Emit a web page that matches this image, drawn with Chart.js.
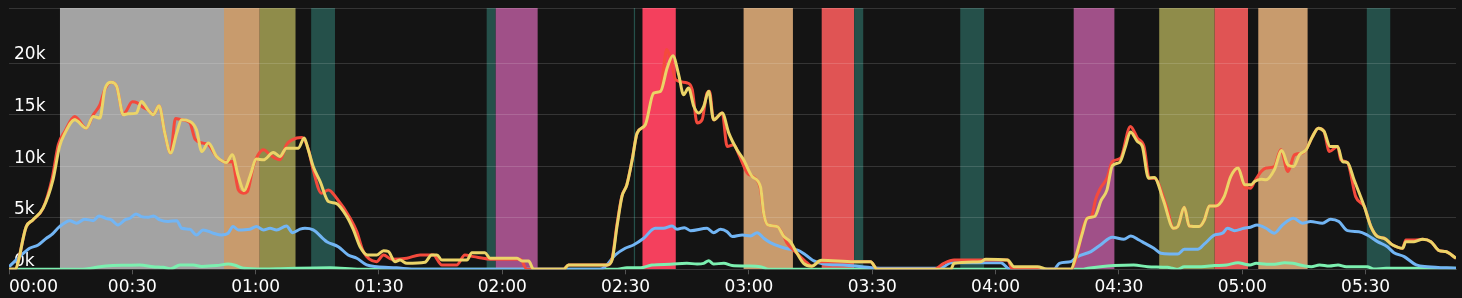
<!DOCTYPE html>
<html><head><meta charset="utf-8">
<script src="https://cdn.jsdelivr.net/npm/chart.js@4/dist/chart.umd.min.js"></script>
<style>
html,body{margin:0;padding:0;background:#141414;overflow:hidden;}
#wrap{width:1462px;height:298px;position:relative;}
</style></head><body>
<div id="wrap"><canvas id="c"></canvas></div>
<script>
// time axis in minutes since 00:00
const xMin = 0, xMax = 352, xStep = 30;
const yMax = 25340;
const yTicks = [0, 5000, 10000, 15000, 20000];

// background bands (minutes)
const bandStart = [12.4, 52.3, 61.0, 73.5, 116.2, 118.4, 152.0, 154.1, 178.7, 197.7, 205.6, 231.4, 259.0, 279.8, 293.3, 303.9, 330.3];
const bandEnd   = [52.3, 61.0, 69.7, 79.3, 118.4, 128.6, 152.3, 162.2, 190.7, 205.6, 207.8, 237.2, 268.9, 293.3, 301.4, 315.9, 336.0];
const bandColor = ['#a3a3a3', '#c89b6d', '#8f8c4a', '#25504a', '#25504a', '#a05088', '#25504a', '#f4405d', '#c89b6d', '#e05454', '#25504a', '#25504a', '#a05088', '#8f8c4a', '#e05454', '#c89b6d', '#25504a'];

// yellow series
const yellowT = [0,1.4,4.2,5.8,8.3,10.7,12.3,13.6,16.0,18.8,20.5,22.1,23.3,24.9,26.2,27.8,29.0,31.0,32.2,33.8,35.1,36.5,37.9,39.3,40.8,42.0,44.0,45.6,46.9,48.5,50.5,52.1,52.9,54.3,55.8,57.2,58.6,60.2,61.9,64.3,65.9,67.5,70.4,71.8,72.8,74.0,75.7,77.7,79.5,82.2,83.8,85.4,87.2,89.5,91.1,92.3,93.9,95.1,96.8,101.2,102.8,104.1,105.3,111.4,112.6,115.8,117.0,123.6,124.8,126.4,127.6,134.9,136.1,145.5,146.7,147.9,149.1,150.3,151.6,152.8,154.8,156.8,158.5,160.1,161.5,162.9,164.1,165.3,166.6,167.8,169.0,170.2,171.4,173.5,175.1,177.1,178.7,180.8,182.8,183.6,184.6,186.9,188.5,190.1,191.7,193.3,195.2,197.6,205.6,209.6,211.2,229.1,229.9,236.4,237.6,242.9,244.5,250.2,252.6,258.3,259.5,261.1,262.3,264.1,265.7,267.1,268.4,270.2,271.6,272.8,274.5,275.7,277.2,278.6,280.8,283.3,284.3,285.9,287.1,289.5,290.8,292.0,293.6,295.6,297.2,299.0,300.6,302.1,303.0,304.6,305.8,307.8,309.6,311.1,312.5,313.9,315.5,317.1,318.5,319.9,321.4,323.2,324.4,325.6,327.2,329.7,331.3,332.9,334.5,336.6,339.0,339.8,341.8,343.9,345.9,347.9,349.5,352.0];
const yellowV = [0,0,4140,4790,5930,8680,11910,13200,14500,13690,14820,14670,17420,18130,17740,14990,15080,15150,16280,15470,14990,15860,13210,11270,13210,14500,14340,13530,11420,12240,10940,10450,10350,11100,8990,7630,8990,10690,10620,11330,10940,11750,11750,12730,11590,9970,8510,6570,6410,5110,3820,2190,1390,1390,1810,1720,740,900,580,680,1390,1390,900,900,1610,1610,1070,1070,800,800,0,0,420,420,900,4140,7050,8190,10620,13210,14020,17090,17260,19530,20720,18870,16930,17580,15790,15150,15790,17260,14500,15150,13210,11590,10620,8990,8020,5440,4300,4140,3170,2680,1550,580,300,870,740,740,0,0,580,740,970,900,250,250,0,0,1230,3500,4950,5120,6700,7700,10050,10370,11910,13320,12390,11920,8840,8910,6730,3980,4140,6020,4200,4140,4790,6150,6150,7050,8990,9820,8190,8190,8510,8740,8680,9640,11520,10130,9970,11100,11590,12880,13690,13370,11910,11910,10450,10350,8680,6080,4140,3170,3010,2360,2040,2680,2680,2910,2680,1810,1720,1070];

// red series
const redT = [0,1.4,4.2,5.8,8.3,10.5,12.0,13.6,16.0,18.8,20.5,22.1,23.3,24.9,26.2,27.8,28.5,30.0,31.2,32.5,33.8,35.1,36.5,37.9,39.3,40.5,42.0,44.0,45.3,47.2,48.5,50.5,52.1,53.0,54.3,55.8,57.0,58.0,59.4,60.6,61.9,63.5,65.9,67.5,70.0,71.3,72.8,74.0,76.0,77.7,79.7,83.0,84.6,86.2,89.4,91.1,93.1,96.8,100.0,103.2,105.3,108.9,110.9,113.0,117.9,124.4,126.0,134.9,136.1,145.5,146.7,147.9,149.1,150.3,151.6,152.8,154.8,156.8,158.5,159.1,160.0,161.0,162.2,165.0,166.2,167.4,168.6,169.8,170.4,171.4,173.5,174.7,176.3,177.5,179.6,181.2,182.8,183.6,184.6,186.9,188.5,189.3,191.7,194.1,195.4,197.0,205.6,209.6,211.2,225.0,227.4,229.9,242.9,244.1,258.3,259.9,261.1,262.3,263.4,264.3,265.5,267.1,268.4,270.4,272.8,274.5,276.1,277.4,278.6,281.6,283.3,284.3,285.9,287.1,289.5,290.8,292.0,293.6,295.6,297.2,299.0,300.6,302.0,303.0,304.6,305.8,307.8,309.4,311.1,312.7,314.7,315.5,317.1,318.5,319.9,321.2,323.2,324.0,325.6,327.6,329.7,331.3,332.9,334.5,336.6,339.0,339.8,341.8,343.9,345.9,347.9,349.5,352.0];
const redV = [0,0,4140,4790,5930,8830,12080,13400,14820,13690,14990,15940,17420,18130,17740,14990,15330,16240,16140,15730,15470,14990,15860,13210,11270,14620,14500,14210,12590,12240,12080,10940,10450,10400,10450,7700,7380,7540,9970,11100,11590,11100,10620,12080,12730,12790,11670,9640,7380,7700,6890,4950,3650,1720,740,1390,970,1070,1390,1390,420,420,1390,1230,970,970,0,0,420,420,1020,4360,7110,8220,10660,13210,14020,17090,17260,19040,21320,20300,18370,18070,17420,14180,14500,17090,17260,14500,15150,11910,12080,11170,9330,8930,7820,5380,4300,4140,3170,2530,1550,640,300,740,740,740,0,0,580,900,900,0,0,1520,3760,4950,5180,6730,7870,8840,10450,10780,13850,12730,11910,8840,8840,6080,3980,4140,6020,4200,4140,4790,6150,6150,7050,8990,9820,7960,7870,8510,9480,9820,9970,11590,9480,11100,11270,11590,12880,13690,13370,11420,11910,10620,10350,7050,6080,4140,3170,3010,2360,2040,2840,2840,2910,2680,1810,1720,1070];

// blue series
const blueT = [0,2.6,5.0,7.1,9.1,10.3,12.3,14.8,16.4,18.4,20.5,21.9,23.7,24.9,26.5,28.2,29.4,30.9,32.2,33.8,35.2,36.7,38.7,40.8,42.0,44.0,45.6,47.2,49.7,51.7,53.3,54.5,55.8,58.6,60.2,61.9,63.5,65.1,67.5,69.0,70.8,72.0,74.0,77.3,80.1,82.5,84.6,87.0,89.5,94.3,98.4,143.8,145.0,147.5,149.9,151.9,154.4,157.2,159.2,161.3,162.5,164.3,165.8,169.8,171.4,173.1,174.7,175.9,178.4,180.4,182.0,183.6,185.2,187.7,190.1,191.7,193.8,195.8,198.2,203.1,207.5,211.9,226.0,227.4,229.1,241.3,243.5,254.2,255.5,258.3,259.9,263.2,265.5,268.4,271.2,272.9,274.9,276.0,278.5,280.2,282.3,284.3,285.9,289.2,290.8,293.3,295.2,296.4,298.1,300.4,302.0,303.6,305.8,307.8,309.8,312.5,314.6,316.6,319.5,321.5,323.5,325.6,328.4,330.4,332.9,335.3,336.9,339.4,342.3,345.1,352.0];
const blueV = [250,1230,2040,2360,3010,3330,4140,4720,4470,4860,4720,5180,4910,4790,4300,4790,4950,5370,5110,5050,5180,4790,4630,4720,3980,3890,3330,3820,3500,3330,3500,4140,3820,3890,4140,3820,3980,3820,4200,3550,3890,3980,3820,2680,2190,1390,1070,420,250,150,0,0,250,1390,2040,2360,3010,3980,3980,4200,3890,4040,3750,3980,3550,3890,3650,3170,3330,3240,3550,3010,2590,2190,1940,1880,1390,810,510,410,250,100,100,250,640,640,0,0,580,740,1230,1720,2360,3110,2910,3240,2840,2590,2040,1550,1480,1480,1940,1940,2460,3330,3500,3980,3750,3980,4080,4300,3980,3500,4300,4950,4470,4630,4470,4860,4630,3750,3650,3330,2680,2190,1610,1230,420,250,100];

// green series
const greenT = [0,18.0,20.0,22.1,25.3,28.5,31.8,35.1,37.5,39.3,41.6,44.8,46.9,50.5,53.3,55.0,57.0,61.9,66.0,70.0,78.1,85.4,148.0,150.3,153.6,156.4,160.9,164.9,167.4,169.0,170.2,171.4,173.9,175.9,179.6,182.8,184.8,261.0,262.5,265.5,268.8,273.6,277.0,281.8,283.0,284.3,285.9,290.0,293.3,296.2,299.0,300.7,301.9,303.4,305.9,307.9,310.3,312.3,315.2,316.8,318.8,321.2,323.3,325.3,330.4,332.0,335.0,352.0];
const greenV = [0,0,100,250,360,390,420,250,190,50,420,420,280,360,510,390,100,20,50,100,150,0,0,150,150,420,490,580,520,580,830,520,580,360,320,250,0,0,100,250,360,420,250,190,100,0,250,250,360,420,640,490,420,580,490,490,640,580,320,250,420,320,420,250,250,30,100,100];

function pts(t, v) { return t.map((x, i) => ({ x: x, y: v[i] })); }
function hhmm(m) {
  const h = Math.floor(m / 60), mm = Math.round(m % 60);
  return String(h).padStart(2, '0') + ':' + String(mm).padStart(2, '0');
}

const bandPlugin = {
  id: 'bands',
  beforeDraw(chart) {
    const { ctx, chartArea, scales } = chart;
    ctx.save();
    for (let i = 0; i < bandStart.length; i++) {
      const x0 = scales.x.getPixelForValue(bandStart[i]);
      const x1 = scales.x.getPixelForValue(bandEnd[i]);
      ctx.fillStyle = bandColor[i];
      ctx.fillRect(x0, chartArea.top, x1 - x0, chartArea.bottom - chartArea.top);
    }
    ctx.restore();
  }
};

const common = { borderWidth: 3, pointRadius: 0, fill: false, cubicInterpolationMode: 'monotone' };

new Chart(document.getElementById('c'), {
  type: 'line',
  data: {
    datasets: [
      Object.assign({ label: 'yellow', data: pts(yellowT, yellowV), borderColor: '#ebd468' }, common),
      Object.assign({ label: 'red', data: pts(redT, redV), borderColor: '#f44a3c' }, common),
      Object.assign({ label: 'blue', data: pts(blueT, blueV), borderColor: '#72b5f4' }, common),
      Object.assign({ label: 'green', data: pts(greenT, greenV), borderColor: '#7cf0b0' }, common)
    ]
  },
  options: {
    responsive: true,
    maintainAspectRatio: false,
    animation: false,
    devicePixelRatio: 1,
    layout: { padding: { left: 9, right: 6, top: 8, bottom: 0 } },
    plugins: { legend: { display: false }, tooltip: { enabled: false } },
    scales: {
      x: {
        type: 'linear',
        min: xMin, max: xMax,
        afterFit: (s) => { s.paddingLeft = 0; s.paddingRight = 0; s.height = 28.7; },
        ticks: {
          stepSize: xStep, autoSkip: false, maxRotation: 0, align: 'inner',
          color: '#ffffff', padding: 3,
          font: { family: 'DejaVu Sans', size: 17 },
          callback: (v) => (v % xStep === 0 ? hhmm(v) : '')
        },
        grid: {
          drawOnChartArea: false, drawTicks: true, tickLength: 5,
          tickColor: (c) => (c.tick && c.tick.value % xStep === 0 ? '#555555' : 'rgba(0,0,0,0)')
        },
        border: { color: '#3a3a3a', width: 1 }
      },
      y: {
        min: 0, max: yMax,
        afterBuildTicks: (s) => { s.ticks = yTicks.concat([yMax]).map((v) => ({ value: v })); },
        afterFit: (s) => { s.width = 0; s.paddingTop = 0; s.paddingBottom = 0; },
        ticks: {
          mirror: true, padding: 5, labelOffset: -8,
          color: '#ffffff',
          font: { family: 'DejaVu Sans', size: 17 },
          callback: (v) => (yTicks.includes(v) ? (v / 1000) + 'k' : '')
        },
        grid: { color: 'rgba(255,255,255,0.14)', drawTicks: false },
        border: { display: false }
      }
    }
  },
  plugins: [bandPlugin]
});
</script>
</body></html>
